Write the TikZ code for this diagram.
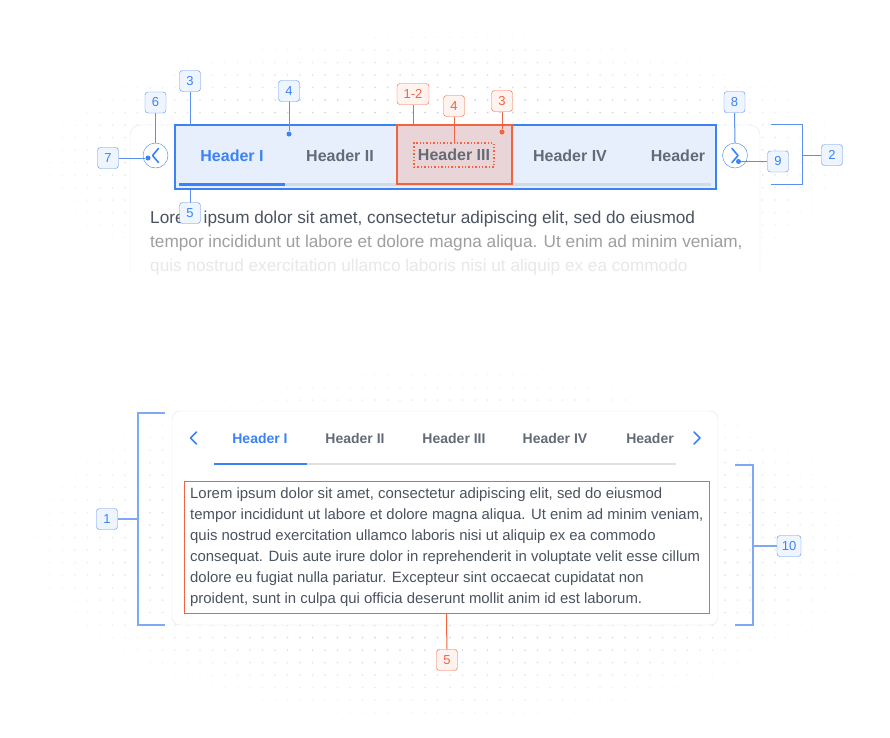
\documentclass[tikz,border=0pt]{standalone}
\usepackage{fontspec}
\setmainfont{Liberation Sans}
\usetikzlibrary{positioning}
\definecolor{blueline}{HTML}{3B82F6}
\definecolor{bluefill}{HTML}{E8EFFC}
\definecolor{tagline}{HTML}{5B8FF0}
\definecolor{tagfill}{HTML}{EFF5FF}
\definecolor{bracket}{HTML}{7FA8F5}
\definecolor{redline}{HTML}{F0653F}
\definecolor{redfill}{HTML}{E9D5D7}
\definecolor{redtagfill}{HTML}{FFF3F0}
\definecolor{tabtext}{HTML}{636B78}
\definecolor{bodytext}{HTML}{4B5260}
\definecolor{cardline}{HTML}{E2E4E8}
\definecolor{barline}{HTML}{D3DAE5}
\definecolor{dotgray}{HTML}{C5C9CF}
\tikzstyle{Tag}=[rectangle, rounded corners=3, draw=tagline, fill=tagfill, text=blueline, minimum width=21, minimum height=21, inner sep=2, font=\fontsize{13}{15}\selectfont]
\tikzstyle{RedTag}=[Tag, draw=redline, fill=redtagfill, text=redline]
\tikzstyle{TabBig}=[inner sep=0, font=\fontsize{16}{19}\selectfont\bfseries, text=tabtext]
\tikzstyle{TabSmall}=[inner sep=0, font=\fontsize{14}{17}\selectfont\bfseries, text=tabtext]
\tikzstyle{Pin}=[circle, fill, inner sep=0, minimum size=5]
\tikzstyle{Lead}=[draw=tagline, line width=1]
\tikzstyle{RedLead}=[draw=redline, line width=1]

\begin{document}
\begin{tikzpicture}[x=1pt, y=-1pt]
    \useasboundingbox (0,0) rectangle (890,737);

    % dotted backdrop
    \foreach \x in {0,12.5,...,887.5}{
      \foreach \y in {0,12.5,...,737}{
        \pgfmathsetmacro\op{max(0, 1-((\x-445)/430)^2-((\y-165)/140)^2, 1-((\y-545)/185)^2-((\x-445)/440)^2)}
        \ifdim\op pt>0.03pt \fill[dotgray, opacity=\op] (\x,\y) circle (1); \fi
      }}

    % ---- top: tab bar in detail ----
    \fill[white, rounded corners=10] (130,290) -- (130,125) -- (760,125) -- (760,290) -- cycle;
    \draw[cardline, rounded corners=10] (130,272) -- (130,125) -- (760,125) -- (760,272);

    \node[draw=blueline, fill=bluefill, line width=2, minimum width=541, minimum height=64, inner sep=0] (bar) at (445,157) {};
    \draw[barline, line width=3] (179,184) -- (711,184);
    \draw[blueline, line width=3] (179,184) -- (285,184);
    \node[draw=redline, fill=redfill, line width=2, minimum width=115, minimum height=59, inner sep=0] (sel) at (454.5,154.5) {};

    \path
    (232,156) node[TabBig, text=blueline] (h1) {Header I}
    (340,156) node[TabBig] (h2) {Header II}
    (454,155) node[TabBig, draw=redline, dotted, line width=1.4, inner xsep=4, inner ysep=6] (h3) {Header III}
    (570,156) node[TabBig] (h4) {Header IV}
    (678,156) node[TabBig] (h5) {Header};

    \node[circle, draw=blueline, fill=white, minimum size=25, inner sep=0] (prev) at (155.5,155.5) {};
    \node[circle, draw=blueline, fill=white, minimum size=25, inner sep=0] (next) at (735,155.5) {};
    \draw[blueline, line width=1.6, line cap=round, line join=round] ([shift={(3,-7)}]prev.center) -- ++(-6,7) -- ++(6,7);
    \draw[blueline, line width=1.6, line cap=round, line join=round] ([shift={(-3,-7)}]next.center) -- ++(6,7) -- ++(-6,7);

    \begin{scope}
    \clip (140,200) rectangle (770,274);
    \path
    (150,223) node[anchor=base west, inner sep=0, text=bodytext, font=\fontsize{17.2}{20}\selectfont] (l1) {Lorem ipsum dolor sit amet, consectetur adipiscing elit, sed do eiusmod}
    (150,247) node[anchor=base west, inner sep=0, text=gray!75, font=\fontsize{17.2}{20}\selectfont] (l2) {tempor incididunt ut labore et dolore magna aliqua. Ut enim ad minim veniam,}
    (150,271) node[anchor=base west, inner sep=0, text=gray!18, font=\fontsize{17.2}{20}\selectfont] (l3) {quis nostrud exercitation ullamco laboris nisi ut aliquip ex ea commodo};
    \end{scope}

    % callouts, blue
    \node[Pin, blueline] (p4) at (289,134) {};
    \node[Pin, blueline] (p7) at (148,158) {};
    \node[Pin, blueline] (p9) at (738.5,161.5) {};
    \draw[Lead] (190,92) -- (190,125);
    \draw[Lead] (155.5,113) -- (prev.north);
    \draw[Lead] (119,158) -- (p7);
    \draw[Lead] (289,101) -- (p4);
    \draw[Lead] (190,190) -- (190,203);
    \draw[Lead] (734.5,113) -- (next.north);
    \draw[Lead] (767,161.5) -- (p9);
    \path
    (190,81) node[Tag] (t3) {3}
    (155.5,102.5) node[Tag] (t6) {6}
    (108,158) node[Tag] (t7) {7}
    (289,91) node[Tag] (t4) {4}
    (190,213) node[Tag] (t5) {5}
    (734.5,102) node[Tag] (t8) {8}
    (778,161.5) node[Tag] (t9) {9}
    (832,155) node[Tag] (t2) {2};
    \draw[tagline, line width=1] (771,124) -| (802,184) -- (771,184);
    \draw[tagline, line width=1] (802,155) -- (t2);

    % callouts, red
    \node[Pin, redline] (r3) at (502,132) {};
    \draw[RedLead] (413,105) -- (413,125);
    \draw[RedLead] (454,117) -- (h3.north);
    \draw[RedLead] (502,112) -- (r3);
    \path
    (413,94) node[RedTag, minimum width=32] (q12) {1-2}
    (454,106) node[RedTag] (q4) {4}
    (502,101) node[RedTag] (q3) {3};

    % ---- bottom: whole component ----
    \node[draw=cardline, fill=white, rounded corners=8, minimum width=546, minimum height=214, inner sep=0] (card) at (445,518) {};
    \path
    (260,438) node[TabSmall, text=blueline] (b1) {Header I}
    (355,438) node[TabSmall] (b2) {Header II}
    (454,438) node[TabSmall] (b3) {Header III}
    (555,438) node[TabSmall] (b4) {Header IV}
    (650,438) node[TabSmall] (b5) {Header};
    \draw[blueline, line width=1.6, line cap=round, line join=round] (196.5,432) -- (190.5,438) -- (196.5,444);
    \draw[blueline, line width=1.6, line cap=round, line join=round] (694,432) -- (700,438) -- (694,444);
    \draw[gray!25, line width=2.5] (214,464) -- (676,464);
    \draw[blueline, line width=2.5] (214,464) -- (307,464);

    \node[draw=redline, line width=1, minimum width=525, minimum height=132, inner sep=0] (body) at (446.5,547) {};
    \foreach \t [count=\i] in {{Lorem ipsum dolor sit amet, consectetur adipiscing elit, sed do eiusmod},
        {tempor incididunt ut labore et dolore magna aliqua. Ut enim ad minim veniam,},
        {quis nostrud exercitation ullamco laboris nisi ut aliquip ex ea commodo},
        {consequat. Duis aute irure dolor in reprehenderit in voluptate velit esse cillum},
        {dolore eu fugiat nulla pariatur. Excepteur sint occaecat cupidatat non},
        {proident, sunt in culpa qui officia deserunt mollit anim id est laborum.}}
      \node[anchor=base west, inner sep=0, text=bodytext, font=\fontsize{14.9}{17}\selectfont] (c\i) at (190,477+21*\i) {\t};

    \path
    (107,519) node[Tag] (t1) {1}
    (789,546) node[Tag, minimum width=24] (t10) {10}
    (447,660) node[RedTag] (q5) {5};
    \draw[bracket, line width=2] (165,413) -| (138,625) -- (165,625);
    \draw[bracket, line width=2] (138,519) -- (t1);
    \draw[bracket, line width=2] (735,465) -| (753,625) -- (735,625);
    \draw[bracket, line width=2] (753,546) -- (t10);
    \draw[RedLead] (body.south) -- (q5);
\end{tikzpicture}
\end{document}
